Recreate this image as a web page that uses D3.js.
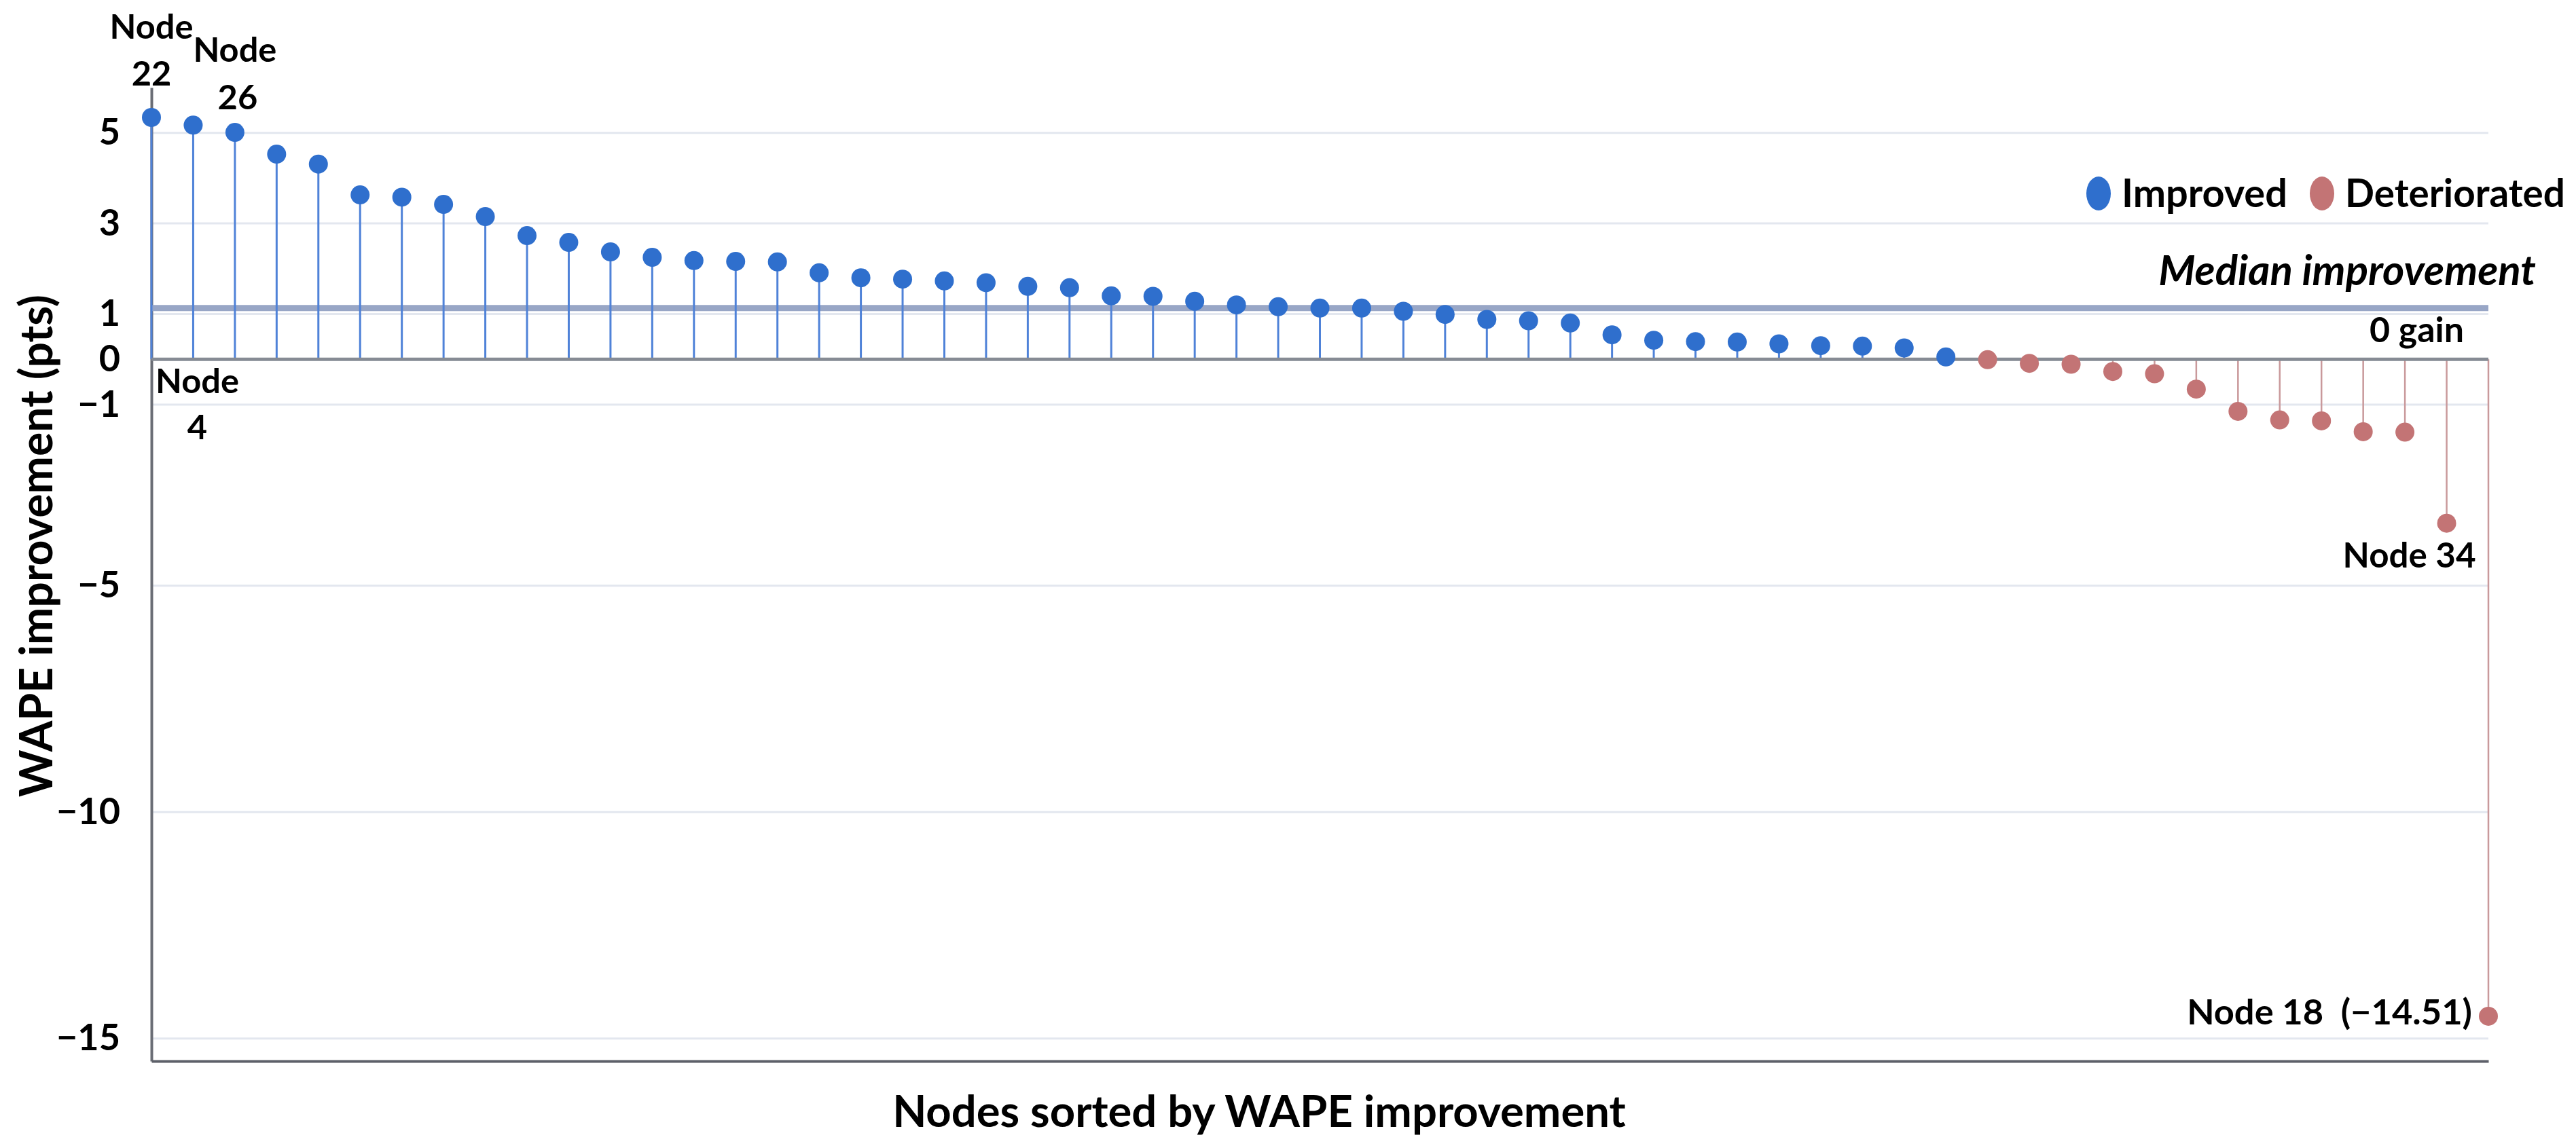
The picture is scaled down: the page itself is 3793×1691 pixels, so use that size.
<!DOCTYPE html>
<html>
<head>
<meta charset="utf-8">
<title>WAPE improvement</title>
<script src="https://cdnjs.cloudflare.com/ajax/libs/d3/7.8.5/d3.min.js"></script>
<style>
  body { margin: 0; background: #fff; }
  text { font-family: Lato, "Open Sans", sans-serif; font-weight: bold; fill: #000; }
</style>
</head>
<body>
<script>
// WAPE improvement per node, sorted descending (pts)
const values = [
  5.34, 5.17, 5.01, 4.53, 4.31, 3.63, 3.58, 3.42, 3.15, 2.73,
  2.58, 2.37, 2.25, 2.18, 2.16, 2.15, 1.91, 1.80, 1.77, 1.73,
  1.69, 1.61, 1.58, 1.40, 1.39, 1.28, 1.20, 1.16, 1.13, 1.13,
  1.06, 0.99, 0.88, 0.85, 0.80, 0.54, 0.42, 0.39, 0.38, 0.34,
  0.30, 0.29, 0.25, 0.05, -0.01, -0.09, -0.11, -0.27, -0.32, -0.66,
  -1.15, -1.34, -1.36, -1.60, -1.61, -3.62, -14.51
];
const yTicks = [5, 3, 1, 0, -1, -5, -10, -15];
const gridTicks = [5, 3, 1, -1, -5, -10, -15];
const legendNames = ["Improved", "Deteriorated"];

const w = 3793, h = 1691;
const blue = "#2f6fcd", red = "#c37475";

const svg = d3.select("body").append("svg")
  .attr("width", w)
  .attr("height", h);

// scale a text's font so its drawn width matches the reference width
function fit(sel, width) {
  const fs = 50;
  sel.style("font-size", fs + "px");
  const len = sel.node().getComputedTextLength();
  const nfs = fs * width / len;
  sel.style("font-size", nfs + "px");
  return nfs;
}

const x = d3.scalePoint()
  .domain(d3.range(values.length))
  .range([223, 3664]);

const y = d3.scaleLinear()
  .domain([6, -15.5])
  .range([129, 1563]);

// grid
svg.append("g").selectAll("line")
  .data(gridTicks)
  .enter().append("line")
  .attr("x1", x(0)).attr("x2", x(values.length - 1))
  .attr("y1", d => y(d)).attr("y2", d => y(d))
  .attr("stroke", "#e3e7ef")
  .attr("stroke-width", 3);

// axes
const yAxis = svg.append("g")
  .attr("transform", "translate(" + x(0) + ",0)")
  .call(d3.axisLeft(y).tickValues(yTicks).tickSize(0).tickSizeOuter(0).tickPadding(46));
yAxis.select(".domain").attr("stroke", "#6a6d75").attr("stroke-width", 4);
yAxis.selectAll("text")
  .attr("fill", "#000").attr("font-size", null).attr("font-family", null)
  .style("font-size", "54px");

const xAxis = svg.append("g")
  .attr("transform", "translate(0," + y.range()[1] + ")")
  .call(d3.axisBottom(x).tickValues([]).tickSizeOuter(0));
xAxis.select(".domain").attr("stroke", "#5d6069").attr("stroke-width", 4);

// median line
const med = d3.median(values);
svg.append("line")
  .attr("x1", x(0)).attr("x2", x(values.length - 1))
  .attr("y1", y(med)).attr("y2", y(med))
  .attr("stroke", "#98a6c6")
  .attr("stroke-width", 9);

// stems
svg.append("g").selectAll("line")
  .data(values)
  .enter().append("line")
  .attr("x1", (d, i) => x(i)).attr("x2", (d, i) => x(i))
  .attr("y1", y(0)).attr("y2", d => y(d))
  .attr("stroke", d => d >= 0 ? "#4f82d8" : "#c9999b")
  .attr("stroke-width", d => d >= 0 ? 3 : 2.5);

// zero line
svg.append("line")
  .attr("x1", x(0)).attr("x2", x(values.length - 1))
  .attr("y1", y(0)).attr("y2", y(0))
  .attr("stroke", "#868b94")
  .attr("stroke-width", 5);

// markers
svg.append("g").selectAll("circle")
  .data(values)
  .enter().append("circle")
  .attr("cx", (d, i) => x(i))
  .attr("cy", d => y(d))
  .attr("r", 14)
  .attr("fill", d => d >= 0 ? blue : red);

// annotations
function lbl(tx, ty, s, anchor) {
  return svg.append("text")
    .attr("x", tx).attr("y", ty)
    .attr("text-anchor", anchor || "middle")
    .text(s);
}
const nodeFs = fit(lbl(x(0), y(values[0]) - 116, "Node"), 123);
[
  lbl(x(0), y(values[0]) - 47, "22"),
  lbl(x(2), y(values[2]) - 104, "Node"),
  lbl(x(2) + 4, y(values[2]) - 34, "26"),
  lbl(x(1) + 6, y(0) + 50, "Node"),
  lbl(x(1) + 6, y(0) + 118, "4")
].forEach(t => t.style("font-size", nodeFs + "px"));
fit(lbl(x(55) + 43, y(values[55]) + 65, "Node 34", "end"), 196);
fit(lbl(x(56) - 24, y(values[56]) + 12, "Node 18\u00a0 (\u221214.51)", "end"), 420);

fit(svg.append("text")
  .attr("x", 3734).attr("y", 420)
  .attr("text-anchor", "end")
  .style("font-style", "italic")
  .text("Median improvement"), 556);

fit(svg.append("text")
  .attr("x", 3628).attr("y", 504)
  .attr("text-anchor", "end")
  .text("0 gain"), 139);

// legend
const legX = [3090, 3419];
const legW = [244, 324];
legendNames.forEach((n, i) => {
  svg.append("ellipse")
    .attr("cx", legX[i]).attr("cy", 285)
    .attr("rx", 18).attr("ry", 25)
    .attr("fill", i === 0 ? blue : red);
  fit(svg.append("text")
    .attr("x", legX[i] + 34).attr("y", 305)
    .text(n), legW[i]);
});

// axis titles
fit(svg.append("text")
  .attr("x", 1854).attr("y", 1660)
  .attr("text-anchor", "middle")
  .text("Nodes sorted by WAPE improvement"), 1080);

fit(svg.append("text")
  .attr("transform", "translate(77,804) rotate(-90)")
  .attr("text-anchor", "middle")
  .text("WAPE improvement (pts)"), 740);
</script>
</body>
</html>
